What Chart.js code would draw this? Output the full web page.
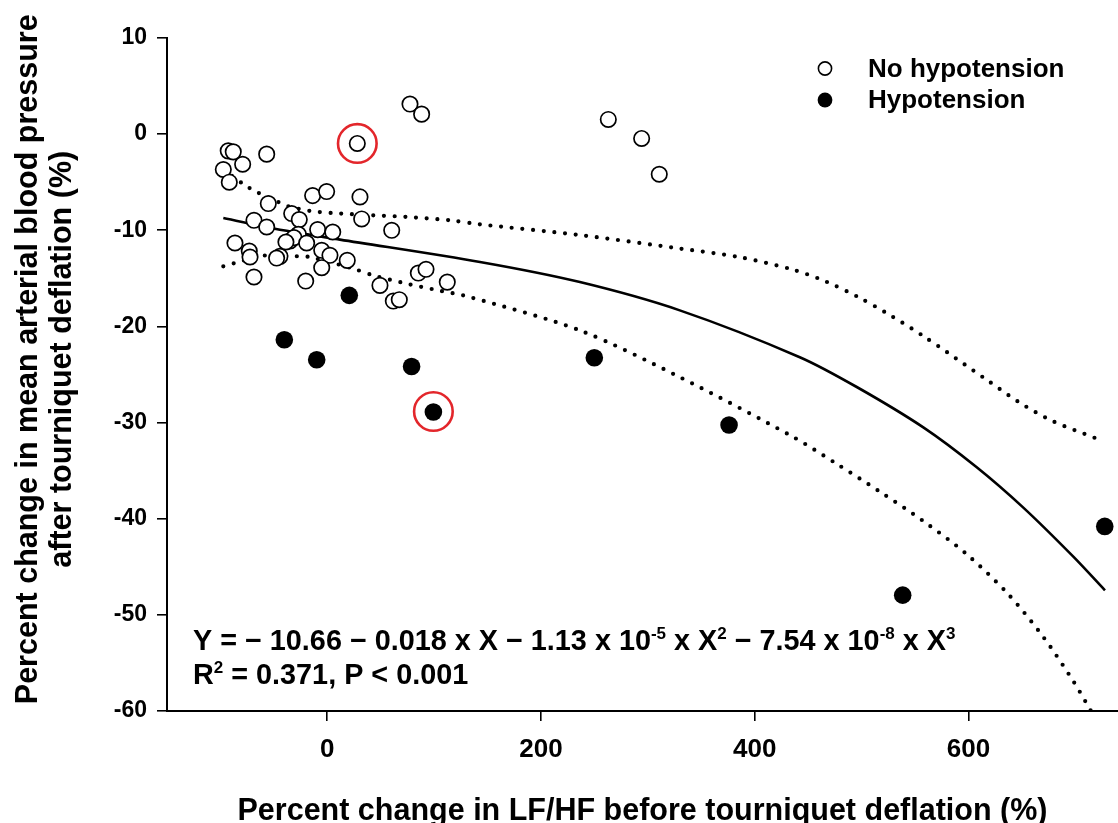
<!DOCTYPE html>
<html>
<head>
<meta charset="utf-8">
<script src="https://cdn.jsdelivr.net/npm/chart.js@4.4.1/dist/chart.umd.min.js"></script>
<style>
html,body{margin:0;padding:0;background:#fff;}
canvas{display:block;}
</style>
</head>
<body>
<canvas id="c" width="1118" height="823"></canvas>
<script>
// ---------- data ----------
const noHypoX = [-92.7,-88.0,-79.2,-97.3,-91.7,-56.7,28.1,77.4,88.3,-55.2,-13.7,-0.6,30.6,-33.3,-26.2,-68.6,-56.7,32.2,-9.0,5.1,60.3,-86.4,-27.1,-34.9,-31.2,-19.3,-73.0,-72.3,-44.3,-47.4,-5.2,2.5,18.7,-5.2,-68.6,-20.2,49.3,85.2,92.4,112.3,61.8,67.4,-38.7,263.0,294.2,310.7];
const noHypoY = [-1.74,-1.84,-3.13,-3.68,-5.0,-2.08,-0.97,3.13,2.08,-7.22,-6.39,-5.97,-6.53,-8.26,-8.89,-8.96,-9.66,-8.82,-9.93,-10.18,-10.0,-11.32,-10.42,-11.11,-10.76,-11.32,-12.16,-12.78,-12.71,-12.89,-12.08,-12.6,-13.13,-13.89,-14.86,-15.28,-15.73,-14.45,-14.06,-15.39,-17.36,-17.22,-11.22,1.53,-0.45,-4.17];

const hypoX = [20.6,-40.2,-9.9,78.9,99.3,249.9,376.0,538.5,727.6];
const hypoY = [-16.77,-21.39,-23.47,-24.17,-28.9,-23.26,-30.25,-47.95,-40.8];

const highlightX = [28.1, 99.3];
const highlightY = [-0.97, -28.85];

const fitX = [-97.3,-41.2,11.9,142.9,236.4,329.9,442.2,495.5,557.8,607.8,651.4,698.2,727.8];
const fitY = [-8.72,-10.0,-10.97,-13.3,-15.39,-18.33,-23.2,-26.3,-30.5,-34.65,-38.85,-43.95,-47.45];

const upperX = [-97.3,-77.0,-66.1,-45.9,-36.5,-16.2,4.1,43,74.3,114.8,142.9,236.5,330,386,436,466,497,527,557,587.5,617.7,647.6,677.9,718.5];
const upperY = [-3.7,-5.31,-6.01,-7.05,-7.5,-7.99,-8.2,-8.44,-8.61,-8.96,-9.38,-10.5,-11.9,-12.8,-14.1,-15.3,-16.95,-18.85,-20.94,-23.26,-25.6,-27.9,-29.8,-31.6];

const lowerX = [-97.3,-86.4,-56.7,-27.1,-16.8,24.3,43,74.3,103.9,133.6,236.5,330,436.1,476.8,516.6,557.2,597.4,637.3,670.1,698.2,714.7];
const lowerY = [-13.75,-13.4,-12.6,-12.71,-12.78,-13.99,-14.69,-15.55,-16.25,-16.95,-20.42,-25.28,-31.5,-34.3,-37.15,-40.2,-43.6,-47.85,-52.3,-56.9,-60];

const xTickValues = [0, 200, 400, 600];
const yTickValues = [-60, -50, -40, -30, -20, -10, 0, 10];

const xTitle = 'Percent change in LF/HF before tourniquet deflation (%)';
const yTitle = ['\u2002\u2002Percent change in mean arterial blood pressure', '\u2002\u2002after tourniquet deflation (%)'];

const seriesNames = ['No hypotension', 'Hypotension'];

const eqLine1 = [
  {t: 'Y = \u2212 10.66 \u2212 0.018 x X \u2212 1.13 x 10'}, {t: '-5', sup: true},
  {t: ' x X'}, {t: '2', sup: true},
  {t: ' \u2212 7.54 x 10'}, {t: '-8', sup: true},
  {t: ' x X'}, {t: '3', sup: true}
];
const eqLine2 = [{t: 'R'}, {t: '2', sup: true}, {t: ' = 0.371, P < 0.001'}];

// ---------- helpers ----------
const pts = (xs, ys) => xs.map((x, i) => ({x: x, y: ys[i]}));
const FONT = "'Liberation Sans', Arial, Helvetica, sans-serif";

const annotations = {
  id: 'annotations',
  afterDatasetsDraw(chart) {
    const ctx = chart.ctx;
    ctx.save();
    // legend
    const lx = 825, tx = 868, rows = [68.5, 100];
    ctx.font = 'bold 26px ' + FONT;
    ctx.textBaseline = 'middle';
    ctx.fillStyle = '#000';
    seriesNames.forEach((name, i) => {
      ctx.beginPath();
      ctx.arc(lx, rows[i], i === 0 ? 6.6 : 7.4, 0, Math.PI * 2);
      if (i === 0) {
        ctx.fillStyle = '#fff'; ctx.fill();
        ctx.lineWidth = 1.6; ctx.strokeStyle = '#000'; ctx.stroke();
      } else {
        ctx.fillStyle = '#000'; ctx.fill();
      }
      ctx.fillStyle = '#000';
      ctx.fillText(name, tx, rows[i] + 1);
    });
    // equation
    const drawRich = (segs, x, y) => {
      ctx.textBaseline = 'alphabetic';
      segs.forEach(s => {
        if (s.sup) {
          ctx.font = 'bold 17px ' + FONT;
          ctx.fillText(s.t, x, y - 11);
        } else {
          ctx.font = 'bold 28.8px ' + FONT;
          ctx.fillText(s.t, x, y);
        }
        x += ctx.measureText(s.t).width;
      });
    };
    drawRich(eqLine1, 193, 649.5);
    drawRich(eqLine2, 193, 683.5);
    ctx.restore();
  }
};

new Chart(document.getElementById('c'), {
  type: 'scatter',
  data: {
    datasets: [
      {label: 'highlight', data: pts(highlightX, highlightY), pointRadius: 19.3, pointHoverRadius: 19.3,
       pointBorderWidth: 2.6, pointBorderColor: '#e3262b', pointBackgroundColor: 'rgba(0,0,0,0)', order: 0},
      {label: seriesNames[1], data: pts(hypoX, hypoY), pointRadius: 8.8, pointHoverRadius: 8.8,
       pointBackgroundColor: '#000', pointBorderColor: '#000', pointBorderWidth: 0, order: 1},
      {label: seriesNames[0], data: pts(noHypoX, noHypoY), pointRadius: 7.7, pointHoverRadius: 7.7,
       pointBackgroundColor: '#fff', pointBorderColor: '#000', pointBorderWidth: 1.7, order: 2},
      {label: 'fit', data: pts(fitX, fitY), showLine: true, pointRadius: 0, borderColor: '#000',
       borderWidth: 2.6, tension: 0.3, order: 3},
      {label: 'upper95', data: pts(upperX, upperY), showLine: true, pointRadius: 0, borderColor: '#000',
       borderWidth: 4.2, borderDash: [0, 10.7], borderCapStyle: 'round', tension: 0.3, order: 4},
      {label: 'lower95', data: pts(lowerX, lowerY), showLine: true, pointRadius: 0, borderColor: '#000',
       borderWidth: 4.2, borderDash: [0, 10.7], borderCapStyle: 'round', tension: 0.3, order: 4}
    ]
  },
  options: {
    responsive: false,
    animation: false,
    devicePixelRatio: 1,
    layout: {autoPadding: false, padding: {top: 38, right: 0, bottom: 0, left: 0}},
    plugins: {legend: {display: false}, tooltip: {enabled: false}},
    scales: {
      x: {
        type: 'linear', min: -150, max: 740,
        afterBuildTicks: s => { s.ticks = xTickValues.map(v => ({value: v})); },
        afterFit: s => { s.height = 112; s.paddingLeft = 0; s.paddingRight = 0; },
        grid: {drawOnChartArea: false, drawTicks: true, tickLength: 10, color: '#000', lineWidth: 1.6},
        border: {display: true, color: '#000', width: 2},
        ticks: {font: {family: FONT, size: 26, weight: 'bold'}, color: '#000', padding: 13, maxRotation: 0},
        title: {display: true, text: xTitle, color: '#000', padding: 0,
                font: {family: FONT, size: 30.5, weight: 'bold', lineHeight: 0.78}}
      },
      y: {
        type: 'linear', min: -60, max: 10,
        afterBuildTicks: s => { s.ticks = yTickValues.map(v => ({value: v})); },
        afterFit: s => { s.width = 167; },
        grid: {drawOnChartArea: false, drawTicks: true, tickLength: 10, color: '#000', lineWidth: 1.6},
        border: {display: true, color: '#000', width: 2},
        ticks: {font: {family: FONT, size: 23, weight: 'bold'}, color: '#000', padding: 10},
        title: {display: true, text: yTitle, color: '#000', padding: {top: 12, bottom: 0},
                font: {family: FONT, size: 30.5, weight: 'bold', lineHeight: 1.1}}
      }
    }
  },
  plugins: [annotations]
});
</script>
</body>
</html>
